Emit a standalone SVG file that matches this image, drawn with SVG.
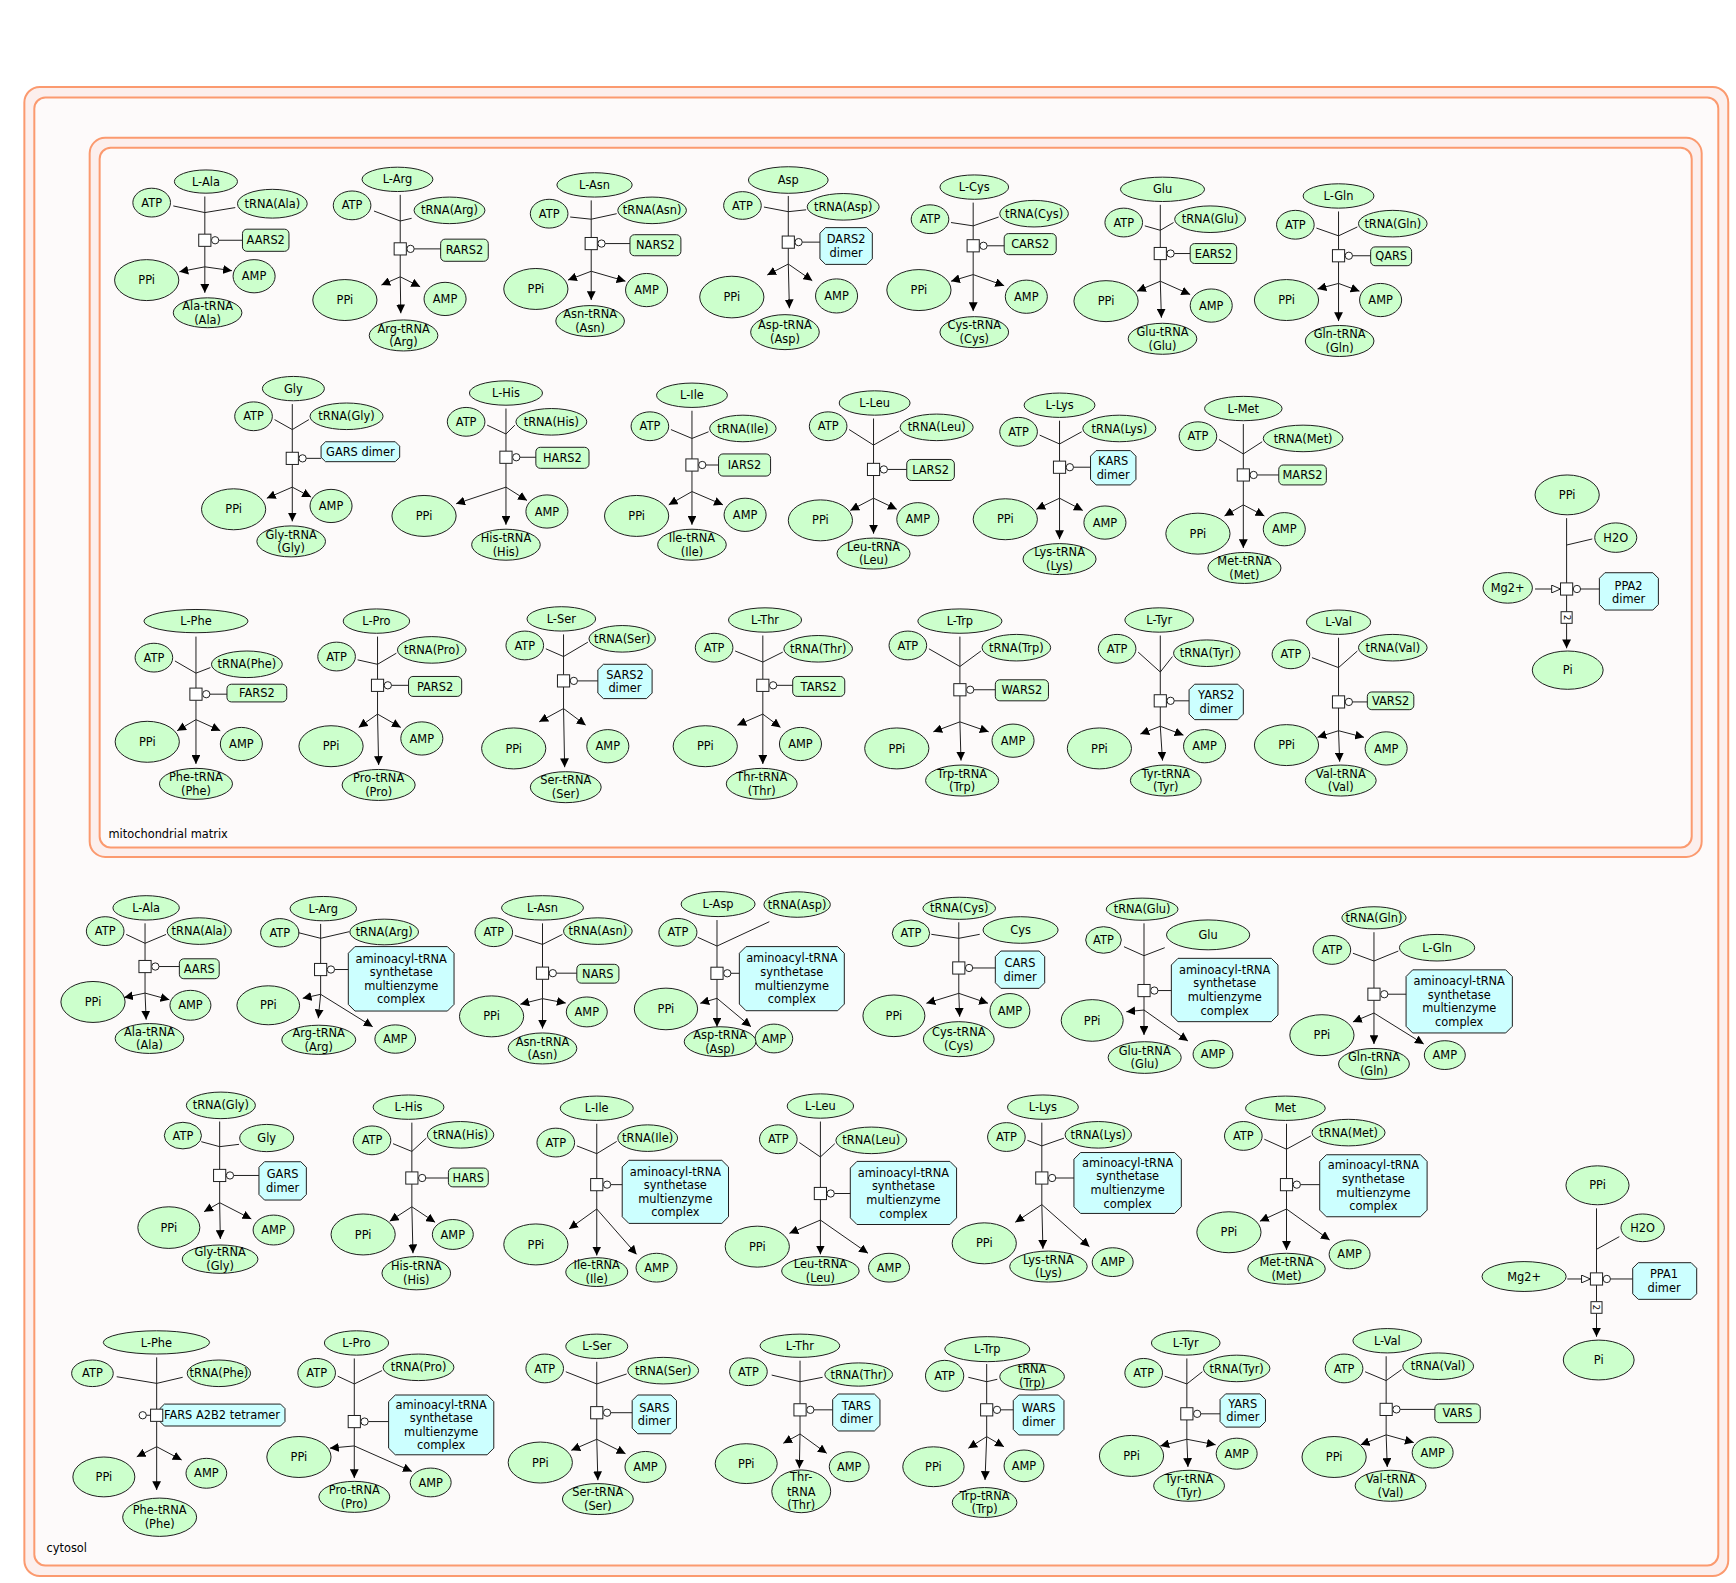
<svg xmlns="http://www.w3.org/2000/svg" width="1736" height="1583" viewBox="0 0 1736 1583">
<defs>
<style>
.cb{fill:#fcefed;stroke:#fb9a6f;stroke-width:1.8}
.ci{fill:#fdfafa;stroke:#fb9a6f;stroke-width:1.8}
text{font-family:"DejaVu Sans","Liberation Sans",sans-serif;font-size:10.3px;fill:#000}
.n ellipse,.n rect{fill:#ccffcc;stroke:#1e1e1e;stroke-width:.9}
.n polygon{fill:#ccffff;stroke:#1e1e1e;stroke-width:.9}
.n text{text-anchor:middle}
#connectors path{fill:none;stroke:#1e1e1e;stroke-width:.9}
#connectors .o{marker-end:url(#ah)}
#connectors .g{marker-end:url(#ot)}
#connectors rect,#connectors circle{fill:#fff;stroke:#1e1e1e;stroke-width:.9}
#connectors text{font-size:8px;text-anchor:middle}
</style>
<marker id="ah" viewBox="0 0 8 8" refX="8" refY="4" markerWidth="8" markerHeight="8" markerUnits="userSpaceOnUse" orient="auto"><path d="M0,0 L8,4 L0,8 z" fill="#000"/></marker>
<marker id="ot" viewBox="0 0 9 8" refX="8.5" refY="4" markerWidth="9" markerHeight="8" markerUnits="userSpaceOnUse" orient="auto"><path d="M0.5,0.5 L8.5,4 L0.5,7.5 z" fill="#fff" stroke="#000" stroke-width="0.8"/></marker>
</defs>
<rect width="1736" height="1583" fill="#fff"/>
<g transform="scale(1.107143)">
<g id="compartments">
<rect class="cb" x="22" y="78.5" width="1539" height="1345" rx="14"/>
<rect class="ci" x="31" y="88" width="1521" height="1326" rx="10"/>
<rect class="cb" x="81" y="124.5" width="1456" height="649.5" rx="14"/>
<rect class="ci" x="90" y="133.5" width="1438" height="632" rx="10"/>
<text x="98" y="757">mitochondrial matrix</text>
<text x="42" y="1402">cytosol</text>
</g>
<g id="nodes">
<!-- M1 Ala -->
<g class="n" id="m1-s"><ellipse cx="186" cy="164" rx="28.5" ry="10.5"/><text x="186" y="167.7">L-Ala</text></g>
<g class="n" id="m1-atp"><ellipse cx="137" cy="183" rx="17" ry="13"/><text x="137" y="186.7">ATP</text></g>
<g class="n" id="m1-t"><ellipse cx="246" cy="184" rx="31.5" ry="13"/><text x="246" y="187.7">tRNA(Ala)</text></g>
<g class="n" id="m1-e"><rect x="219" y="207" width="42" height="20" rx="4"/><text x="240" y="220.7">AARS2</text></g>
<g class="n" id="m1-ppi"><ellipse cx="132.5" cy="253" rx="29" ry="18.5"/><text x="132.5" y="256.7">PPi</text></g>
<g class="n" id="m1-amp"><ellipse cx="229.5" cy="249.5" rx="19" ry="15"/><text x="229.5" y="253.2">AMP</text></g>
<g class="n" id="m1-p"><ellipse cx="187.5" cy="282.5" rx="31" ry="13.5"/><text x="187.5" y="279.9">Ala-tRNA</text><text x="187.5" y="292.3">(Ala)</text></g>
<!-- M2 Arg -->
<g class="n" id="m2-s"><ellipse cx="359" cy="162" rx="32" ry="11"/><text x="359" y="165.7">L-Arg</text></g>
<g class="n" id="m2-atp"><ellipse cx="318" cy="185.5" rx="17" ry="13"/><text x="318" y="189.2">ATP</text></g>
<g class="n" id="m2-t"><ellipse cx="406" cy="190" rx="32" ry="12"/><text x="406" y="193.7">tRNA(Arg)</text></g>
<g class="n" id="m2-e"><rect x="398" y="216" width="43" height="20" rx="4"/><text x="419.5" y="229.7">RARS2</text></g>
<g class="n" id="m2-ppi"><ellipse cx="311.5" cy="271" rx="29" ry="18.5"/><text x="311.5" y="274.7">PPi</text></g>
<g class="n" id="m2-amp"><ellipse cx="402" cy="270" rx="19" ry="15"/><text x="402" y="273.7">AMP</text></g>
<g class="n" id="m2-p"><ellipse cx="364.5" cy="303" rx="31" ry="14"/><text x="364.5" y="300.4">Arg-tRNA</text><text x="364.5" y="312.8">(Arg)</text></g>
<!-- M3 Asn -->
<g class="n" id="m3-s"><ellipse cx="537" cy="167" rx="34" ry="11"/><text x="537" y="170.7">L-Asn</text></g>
<g class="n" id="m3-atp"><ellipse cx="496" cy="193" rx="17" ry="13"/><text x="496" y="196.7">ATP</text></g>
<g class="n" id="m3-t"><ellipse cx="589" cy="190" rx="31" ry="12"/><text x="589" y="193.7">tRNA(Asn)</text></g>
<g class="n" id="m3-e"><rect x="569" y="212" width="46" height="19" rx="4"/><text x="592" y="225.2">NARS2</text></g>
<g class="n" id="m3-ppi"><ellipse cx="484" cy="261" rx="29" ry="18.5"/><text x="484" y="264.7">PPi</text></g>
<g class="n" id="m3-amp"><ellipse cx="584" cy="262" rx="19" ry="15"/><text x="584" y="265.7">AMP</text></g>
<g class="n" id="m3-p"><ellipse cx="533" cy="290" rx="31" ry="14"/><text x="533" y="287.4">Asn-tRNA</text><text x="533" y="299.8">(Asn)</text></g>
<!-- M4 Asp -->
<g class="n" id="m4-s"><ellipse cx="712" cy="162.6" rx="36" ry="12"/><text x="712" y="166.3">Asp</text></g>
<g class="n" id="m4-atp"><ellipse cx="670.6" cy="185.6" rx="17" ry="12.5"/><text x="670.6" y="189.3">ATP</text></g>
<g class="n" id="m4-t"><ellipse cx="761.6" cy="186.8" rx="32.5" ry="12"/><text x="761.6" y="190.5">tRNA(Asp)</text></g>
<g class="n" id="m4-e"><polygon points="745.6,205.6 782.9,205.6 787.9,210.6 787.9,233.8 782.9,238.8 745.6,238.8 740.6,233.8 740.6,210.6"/><text x="764.3" y="219.8">DARS2</text><text x="764.3" y="232">dimer</text></g>
<g class="n" id="m4-ppi"><ellipse cx="661" cy="268.3" rx="29" ry="18.8"/><text x="661" y="272">PPi</text></g>
<g class="n" id="m4-amp"><ellipse cx="755.6" cy="267.3" rx="19" ry="15.4"/><text x="755.6" y="271">AMP</text></g>
<g class="n" id="m4-p"><ellipse cx="709" cy="300" rx="31" ry="15.8"/><text x="709" y="297.4">Asp-tRNA</text><text x="709" y="309.8">(Asp)</text></g>
<!-- M5 Cys -->
<g class="n" id="m5-s"><ellipse cx="880" cy="169" rx="31" ry="11"/><text x="880" y="172.7">L-Cys</text></g>
<g class="n" id="m5-atp"><ellipse cx="840" cy="198" rx="17" ry="13"/><text x="840" y="201.7">ATP</text></g>
<g class="n" id="m5-t"><ellipse cx="934" cy="193" rx="31" ry="12"/><text x="934" y="196.7">tRNA(Cys)</text></g>
<g class="n" id="m5-e"><rect x="907" y="211" width="47" height="19" rx="4"/><text x="930.5" y="224.2">CARS2</text></g>
<g class="n" id="m5-ppi"><ellipse cx="830" cy="262" rx="29" ry="18.5"/><text x="830" y="265.7">PPi</text></g>
<g class="n" id="m5-amp"><ellipse cx="927" cy="268" rx="19" ry="15"/><text x="927" y="271.7">AMP</text></g>
<g class="n" id="m5-p"><ellipse cx="880" cy="300" rx="31" ry="14"/><text x="880" y="297.4">Cys-tRNA</text><text x="880" y="309.8">(Cys)</text></g>
<!-- M6 Glu -->
<g class="n" id="m6-s"><ellipse cx="1050" cy="171" rx="38" ry="11"/><text x="1050" y="174.7">Glu</text></g>
<g class="n" id="m6-atp"><ellipse cx="1015" cy="201" rx="17" ry="13"/><text x="1015" y="204.7">ATP</text></g>
<g class="n" id="m6-t"><ellipse cx="1093" cy="198" rx="32" ry="12"/><text x="1093" y="201.7">tRNA(Glu)</text></g>
<g class="n" id="m6-e"><rect x="1075" y="220" width="42" height="18" rx="4"/><text x="1096" y="232.7">EARS2</text></g>
<g class="n" id="m6-ppi"><ellipse cx="999" cy="272" rx="29" ry="18.5"/><text x="999" y="275.7">PPi</text></g>
<g class="n" id="m6-amp"><ellipse cx="1094" cy="276" rx="19" ry="15"/><text x="1094" y="279.7">AMP</text></g>
<g class="n" id="m6-p"><ellipse cx="1050" cy="306" rx="31" ry="14"/><text x="1050" y="303.4">Glu-tRNA</text><text x="1050" y="315.8">(Glu)</text></g>
<!-- M7 Gln -->
<g class="n" id="m7-s"><ellipse cx="1209" cy="177" rx="32" ry="11"/><text x="1209" y="180.7">L-Gln</text></g>
<g class="n" id="m7-atp"><ellipse cx="1170" cy="203" rx="17" ry="13"/><text x="1170" y="206.7">ATP</text></g>
<g class="n" id="m7-t"><ellipse cx="1258" cy="202" rx="31" ry="12"/><text x="1258" y="205.7">tRNA(Gln)</text></g>
<g class="n" id="m7-e"><rect x="1238" y="223" width="37" height="17" rx="4"/><text x="1256.5" y="235.2">QARS</text></g>
<g class="n" id="m7-ppi"><ellipse cx="1162" cy="271" rx="29" ry="18.5"/><text x="1162" y="274.7">PPi</text></g>
<g class="n" id="m7-amp"><ellipse cx="1247" cy="271" rx="19" ry="15"/><text x="1247" y="274.7">AMP</text></g>
<g class="n" id="m7-p"><ellipse cx="1210" cy="308" rx="31" ry="14"/><text x="1210" y="305.4">Gln-tRNA</text><text x="1210" y="317.8">(Gln)</text></g>
<!-- M8 Gly -->
<g class="n" id="m8-s"><ellipse cx="265" cy="351" rx="28" ry="11"/><text x="265" y="354.7">Gly</text></g>
<g class="n" id="m8-atp"><ellipse cx="229" cy="376" rx="17" ry="13"/><text x="229" y="379.7">ATP</text></g>
<g class="n" id="m8-t"><ellipse cx="313" cy="376" rx="33" ry="12"/><text x="313" y="379.7">tRNA(Gly)</text></g>
<g class="n" id="m8-e"><polygon points="294,399 357,399 361,403 361,413 357,417 294,417 290,413 290,403"/><text x="325.5" y="411.7">GARS dimer</text></g>
<g class="n" id="m8-ppi"><ellipse cx="211" cy="460" rx="29" ry="18.5"/><text x="211" y="463.7">PPi</text></g>
<g class="n" id="m8-amp"><ellipse cx="299" cy="457" rx="19" ry="15"/><text x="299" y="460.7">AMP</text></g>
<g class="n" id="m8-p"><ellipse cx="263" cy="489" rx="31" ry="14"/><text x="263" y="486.4">Gly-tRNA</text><text x="263" y="498.8">(Gly)</text></g>
<!-- M9 His -->
<g class="n" id="m9-s"><ellipse cx="457" cy="355" rx="33" ry="11"/><text x="457" y="358.7">L-His</text></g>
<g class="n" id="m9-atp"><ellipse cx="421" cy="381" rx="17" ry="13"/><text x="421" y="384.7">ATP</text></g>
<g class="n" id="m9-t"><ellipse cx="498" cy="381" rx="32" ry="12"/><text x="498" y="384.7">tRNA(His)</text></g>
<g class="n" id="m9-e"><rect x="484" y="404" width="48" height="19" rx="4"/><text x="508" y="417.2">HARS2</text></g>
<g class="n" id="m9-ppi"><ellipse cx="383" cy="466" rx="29" ry="18.5"/><text x="383" y="469.7">PPi</text></g>
<g class="n" id="m9-amp"><ellipse cx="494" cy="462" rx="19" ry="15"/><text x="494" y="465.7">AMP</text></g>
<g class="n" id="m9-p"><ellipse cx="457" cy="492" rx="31" ry="14"/><text x="457" y="489.4">His-tRNA</text><text x="457" y="501.8">(His)</text></g>
<!-- M10 Ile -->
<g class="n" id="m10-s"><ellipse cx="625" cy="357" rx="32" ry="11"/><text x="625" y="360.7">L-Ile</text></g>
<g class="n" id="m10-atp"><ellipse cx="587" cy="385" rx="17" ry="13"/><text x="587" y="388.7">ATP</text></g>
<g class="n" id="m10-t"><ellipse cx="671" cy="387" rx="30" ry="12"/><text x="671" y="390.7">tRNA(Ile)</text></g>
<g class="n" id="m10-e"><rect x="649" y="410" width="47" height="20" rx="4"/><text x="672.5" y="423.7">IARS2</text></g>
<g class="n" id="m10-ppi"><ellipse cx="575" cy="466" rx="29" ry="18.5"/><text x="575" y="469.7">PPi</text></g>
<g class="n" id="m10-amp"><ellipse cx="673" cy="465" rx="19" ry="15"/><text x="673" y="468.7">AMP</text></g>
<g class="n" id="m10-p"><ellipse cx="625" cy="492" rx="31" ry="14"/><text x="625" y="489.4">Ile-tRNA</text><text x="625" y="501.8">(Ile)</text></g>
<!-- M11 Leu -->
<g class="n" id="m11-s"><ellipse cx="790" cy="364" rx="32" ry="11"/><text x="790" y="367.7">L-Leu</text></g>
<g class="n" id="m11-atp"><ellipse cx="748" cy="385" rx="17" ry="13"/><text x="748" y="388.7">ATP</text></g>
<g class="n" id="m11-t"><ellipse cx="846" cy="386" rx="33" ry="12"/><text x="846" y="389.7">tRNA(Leu)</text></g>
<g class="n" id="m11-e"><rect x="819" y="415" width="43" height="19" rx="4"/><text x="840.5" y="428.2">LARS2</text></g>
<g class="n" id="m11-ppi"><ellipse cx="741" cy="470" rx="29" ry="18.5"/><text x="741" y="473.7">PPi</text></g>
<g class="n" id="m11-amp"><ellipse cx="829" cy="469" rx="19" ry="15"/><text x="829" y="472.7">AMP</text></g>
<g class="n" id="m11-p"><ellipse cx="789" cy="500" rx="33" ry="14"/><text x="789" y="497.4">Leu-tRNA</text><text x="789" y="509.8">(Leu)</text></g>
<!-- M12 Lys -->
<g class="n" id="m12-s"><ellipse cx="957" cy="366" rx="32" ry="11"/><text x="957" y="369.7">L-Lys</text></g>
<g class="n" id="m12-atp"><ellipse cx="920" cy="390" rx="17" ry="13"/><text x="920" y="393.7">ATP</text></g>
<g class="n" id="m12-t"><ellipse cx="1011" cy="387" rx="33" ry="12"/><text x="1011" y="390.7">tRNA(Lys)</text></g>
<g class="n" id="m12-e"><polygon points="990,407 1021,407 1026,412 1026,433 1021,438 990,438 985,433 985,412"/><text x="1005.5" y="420.1">KARS</text><text x="1005.5" y="432.3">dimer</text></g>
<g class="n" id="m12-ppi"><ellipse cx="908" cy="469" rx="29" ry="18.5"/><text x="908" y="472.7">PPi</text></g>
<g class="n" id="m12-amp"><ellipse cx="998" cy="472" rx="19" ry="15"/><text x="998" y="475.7">AMP</text></g>
<g class="n" id="m12-p"><ellipse cx="957" cy="505" rx="33" ry="14"/><text x="957" y="502.4">Lys-tRNA</text><text x="957" y="514.8">(Lys)</text></g>
<!-- M13 Met -->
<g class="n" id="m13-s"><ellipse cx="1123" cy="369" rx="35" ry="11"/><text x="1123" y="372.7">L-Met</text></g>
<g class="n" id="m13-atp"><ellipse cx="1082" cy="394" rx="17" ry="13"/><text x="1082" y="397.7">ATP</text></g>
<g class="n" id="m13-t"><ellipse cx="1177" cy="396" rx="36" ry="12"/><text x="1177" y="399.7">tRNA(Met)</text></g>
<g class="n" id="m13-e"><rect x="1155" y="420" width="43" height="18" rx="4"/><text x="1176.5" y="432.7">MARS2</text></g>
<g class="n" id="m13-ppi"><ellipse cx="1082" cy="482" rx="29" ry="18.5"/><text x="1082" y="485.7">PPi</text></g>
<g class="n" id="m13-amp"><ellipse cx="1160" cy="478" rx="19" ry="15"/><text x="1160" y="481.7">AMP</text></g>
<g class="n" id="m13-p"><ellipse cx="1124" cy="513" rx="33" ry="14"/><text x="1124" y="510.4">Met-tRNA</text><text x="1124" y="522.8">(Met)</text></g>
<!-- M14 PPA2 -->
<g class="n" id="m14-ppi"><ellipse cx="1415.5" cy="447" rx="29" ry="18"/><text x="1415.5" y="450.7">PPi</text></g>
<g class="n" id="m14-h2o"><ellipse cx="1459.4" cy="485.6" rx="19" ry="13.3"/><text x="1459.4" y="489.3">H2O</text></g>
<g class="n" id="m14-mg"><ellipse cx="1361.8" cy="531" rx="22.3" ry="13.8"/><text x="1361.8" y="534.7">Mg2+</text></g>
<g class="n" id="m14-e"><polygon points="1449.6,517.3 1492.9,517.3 1497.9,522.3 1497.9,546 1492.9,551 1449.6,551 1444.6,546 1444.6,522.3"/><text x="1471" y="533">PPA2</text><text x="1471" y="545">dimer</text></g>
<g class="n" id="m14-pi"><ellipse cx="1416" cy="605.3" rx="32" ry="17.3"/><text x="1416" y="609">Pi</text></g>
<!-- M15 Phe -->
<g class="n" id="m15-s"><ellipse cx="177" cy="561" rx="47" ry="10.5"/><text x="177" y="564.7">L-Phe</text></g>
<g class="n" id="m15-atp"><ellipse cx="139" cy="594" rx="17" ry="13"/><text x="139" y="597.7">ATP</text></g>
<g class="n" id="m15-t"><ellipse cx="223" cy="600" rx="32" ry="12"/><text x="223" y="603.7">tRNA(Phe)</text></g>
<g class="n" id="m15-e"><rect x="205" y="618" width="54" height="16" rx="4"/><text x="232" y="629.7">FARS2</text></g>
<g class="n" id="m15-ppi"><ellipse cx="133" cy="670" rx="29" ry="18.5"/><text x="133" y="673.7">PPi</text></g>
<g class="n" id="m15-amp"><ellipse cx="218" cy="672" rx="19" ry="15"/><text x="218" y="675.7">AMP</text></g>
<g class="n" id="m15-p"><ellipse cx="177" cy="708" rx="33" ry="14"/><text x="177" y="705.4">Phe-tRNA</text><text x="177" y="717.8">(Phe)</text></g>
<!-- M16 Pro -->
<g class="n" id="m16-s"><ellipse cx="340" cy="561" rx="30" ry="11"/><text x="340" y="564.7">L-Pro</text></g>
<g class="n" id="m16-atp"><ellipse cx="304" cy="593" rx="17" ry="13"/><text x="304" y="596.7">ATP</text></g>
<g class="n" id="m16-t"><ellipse cx="390" cy="587" rx="31" ry="12"/><text x="390" y="590.7">tRNA(Pro)</text></g>
<g class="n" id="m16-e"><rect x="369" y="611" width="48" height="18" rx="4"/><text x="393" y="623.7">PARS2</text></g>
<g class="n" id="m16-ppi"><ellipse cx="299" cy="674" rx="29" ry="18.5"/><text x="299" y="677.7">PPi</text></g>
<g class="n" id="m16-amp"><ellipse cx="381" cy="667" rx="19" ry="15"/><text x="381" y="670.7">AMP</text></g>
<g class="n" id="m16-p"><ellipse cx="342" cy="709" rx="33" ry="14"/><text x="342" y="706.4">Pro-tRNA</text><text x="342" y="718.8">(Pro)</text></g>
<!-- M17 Ser -->
<g class="n" id="m17-s"><ellipse cx="507" cy="559" rx="31" ry="11"/><text x="507" y="562.7">L-Ser</text></g>
<g class="n" id="m17-atp"><ellipse cx="474" cy="583" rx="17" ry="13"/><text x="474" y="586.7">ATP</text></g>
<g class="n" id="m17-t"><ellipse cx="562" cy="577" rx="30" ry="12"/><text x="562" y="580.7">tRNA(Ser)</text></g>
<g class="n" id="m17-e"><polygon points="545,600 584,600 589,605 589,626 584,631 545,631 540,626 540,605"/><text x="564.5" y="613.1">SARS2</text><text x="564.5" y="625.3">dimer</text></g>
<g class="n" id="m17-ppi"><ellipse cx="464" cy="676" rx="29" ry="18.5"/><text x="464" y="679.7">PPi</text></g>
<g class="n" id="m17-amp"><ellipse cx="549" cy="674" rx="19" ry="15"/><text x="549" y="677.7">AMP</text></g>
<g class="n" id="m17-p"><ellipse cx="511" cy="711" rx="32" ry="14"/><text x="511" y="708.4">Ser-tRNA</text><text x="511" y="720.8">(Ser)</text></g>
<!-- M18 Thr -->
<g class="n" id="m18-s"><ellipse cx="691" cy="560" rx="33" ry="11"/><text x="691" y="563.7">L-Thr</text></g>
<g class="n" id="m18-atp"><ellipse cx="645" cy="585" rx="17" ry="13"/><text x="645" y="588.7">ATP</text></g>
<g class="n" id="m18-t"><ellipse cx="739" cy="586" rx="31" ry="12"/><text x="739" y="589.7">tRNA(Thr)</text></g>
<g class="n" id="m18-e"><rect x="716" y="611" width="47" height="18" rx="4"/><text x="739.5" y="623.7">TARS2</text></g>
<g class="n" id="m18-ppi"><ellipse cx="637" cy="674" rx="29" ry="18.5"/><text x="637" y="677.7">PPi</text></g>
<g class="n" id="m18-amp"><ellipse cx="723" cy="672" rx="19" ry="15"/><text x="723" y="675.7">AMP</text></g>
<g class="n" id="m18-p"><ellipse cx="688" cy="708" rx="32" ry="14"/><text x="688" y="705.4">Thr-tRNA</text><text x="688" y="717.8">(Thr)</text></g>
<!-- M19 Trp -->
<g class="n" id="m19-s"><ellipse cx="867" cy="561" rx="38" ry="11"/><text x="867" y="564.7">L-Trp</text></g>
<g class="n" id="m19-atp"><ellipse cx="820" cy="583" rx="17" ry="13"/><text x="820" y="586.7">ATP</text></g>
<g class="n" id="m19-t"><ellipse cx="918" cy="585" rx="31" ry="12"/><text x="918" y="588.7">tRNA(Trp)</text></g>
<g class="n" id="m19-e"><rect x="899" y="614" width="48" height="19" rx="4"/><text x="923" y="627.2">WARS2</text></g>
<g class="n" id="m19-ppi"><ellipse cx="810" cy="676" rx="29" ry="18.5"/><text x="810" y="679.7">PPi</text></g>
<g class="n" id="m19-amp"><ellipse cx="915" cy="669" rx="19" ry="15"/><text x="915" y="672.7">AMP</text></g>
<g class="n" id="m19-p"><ellipse cx="869" cy="705" rx="33" ry="14"/><text x="869" y="702.4">Trp-tRNA</text><text x="869" y="714.8">(Trp)</text></g>
<!-- M20 Tyr -->
<g class="n" id="m20-s"><ellipse cx="1047" cy="560" rx="31" ry="11"/><text x="1047" y="563.7">L-Tyr</text></g>
<g class="n" id="m20-atp"><ellipse cx="1009" cy="586" rx="17" ry="13"/><text x="1009" y="589.7">ATP</text></g>
<g class="n" id="m20-t"><ellipse cx="1090" cy="590" rx="30" ry="12"/><text x="1090" y="593.7">tRNA(Tyr)</text></g>
<g class="n" id="m20-e"><polygon points="1079,618 1118,618 1123,623 1123,645 1118,650 1079,650 1074,645 1074,623"/><text x="1098.5" y="631.6">YARS2</text><text x="1098.5" y="643.8">dimer</text></g>
<g class="n" id="m20-ppi"><ellipse cx="993" cy="676" rx="29" ry="18.5"/><text x="993" y="679.7">PPi</text></g>
<g class="n" id="m20-amp"><ellipse cx="1088" cy="674" rx="19" ry="15"/><text x="1088" y="677.7">AMP</text></g>
<g class="n" id="m20-p"><ellipse cx="1053" cy="705" rx="32" ry="14"/><text x="1053" y="702.4">Tyr-tRNA</text><text x="1053" y="714.8">(Tyr)</text></g>
<!-- M21 Val -->
<g class="n" id="m21-s"><ellipse cx="1209" cy="562" rx="29" ry="11"/><text x="1209" y="565.7">L-Val</text></g>
<g class="n" id="m21-atp"><ellipse cx="1166" cy="591" rx="17" ry="13"/><text x="1166" y="594.7">ATP</text></g>
<g class="n" id="m21-t"><ellipse cx="1258" cy="585" rx="31" ry="12"/><text x="1258" y="588.7">tRNA(Val)</text></g>
<g class="n" id="m21-e"><rect x="1235" y="625" width="42" height="16" rx="4"/><text x="1256" y="636.7">VARS2</text></g>
<g class="n" id="m21-ppi"><ellipse cx="1162" cy="673" rx="29" ry="18.5"/><text x="1162" y="676.7">PPi</text></g>
<g class="n" id="m21-amp"><ellipse cx="1252" cy="676" rx="19" ry="15"/><text x="1252" y="679.7">AMP</text></g>
<g class="n" id="m21-p"><ellipse cx="1211" cy="705" rx="32" ry="14"/><text x="1211" y="702.4">Val-tRNA</text><text x="1211" y="714.8">(Val)</text></g>
<!-- C1 Ala -->
<g class="n" id="c1-s"><ellipse cx="132" cy="820" rx="30" ry="11"/><text x="132" y="823.7">L-Ala</text></g>
<g class="n" id="c1-atp"><ellipse cx="95" cy="841" rx="17" ry="13"/><text x="95" y="844.7">ATP</text></g>
<g class="n" id="c1-t"><ellipse cx="180" cy="841" rx="29" ry="12"/><text x="180" y="844.7">tRNA(Ala)</text></g>
<g class="n" id="c1-e"><rect x="162" y="866" width="36" height="18" rx="4"/><text x="180" y="878.7">AARS</text></g>
<g class="n" id="c1-ppi"><ellipse cx="84" cy="905" rx="29" ry="18.5"/><text x="84" y="908.7">PPi</text></g>
<g class="n" id="c1-amp"><ellipse cx="172" cy="908" rx="18.5" ry="13.5"/><text x="172" y="911.7">AMP</text></g>
<g class="n" id="c1-p"><ellipse cx="135" cy="938" rx="31" ry="13.5"/><text x="135" y="935.4">Ala-tRNA</text><text x="135" y="947.8">(Ala)</text></g>
<!-- C2 Arg -->
<g class="n" id="c2-s"><ellipse cx="292" cy="820.7" rx="30" ry="11"/><text x="292" y="824.4">L-Arg</text></g>
<g class="n" id="c2-atp"><ellipse cx="252.7" cy="842.5" rx="17.3" ry="12.8"/><text x="252.7" y="846.2">ATP</text></g>
<g class="n" id="c2-t"><ellipse cx="347" cy="841.8" rx="31" ry="11.6"/><text x="347" y="845.5">tRNA(Arg)</text></g>
<g class="n" id="c2-e"><polygon points="320.6,855 404.1,855 410.1,861 410.1,907.2 404.1,913.2 320.6,913.2 314.6,907.2 314.6,861"/><text x="362.4" y="869.4">aminoacyl-tRNA</text><text x="362.4" y="881.7">synthetase</text><text x="362.4" y="894">multienzyme</text><text x="362.4" y="906.3">complex</text></g>
<g class="n" id="c2-ppi"><ellipse cx="242.3" cy="908" rx="28.3" ry="17.6"/><text x="242.3" y="911.7">PPi</text></g>
<g class="n" id="c2-amp"><ellipse cx="357" cy="938.5" rx="18.4" ry="12.8"/><text x="357" y="942.2">AMP</text></g>
<g class="n" id="c2-p"><ellipse cx="287.9" cy="939.2" rx="33.4" ry="13.2"/><text x="287.9" y="936.6">Arg-tRNA</text><text x="287.9" y="949">(Arg)</text></g>
<!-- C3 Asn -->
<g class="n" id="c3-s"><ellipse cx="490" cy="820" rx="37" ry="11"/><text x="490" y="823.7">L-Asn</text></g>
<g class="n" id="c3-atp"><ellipse cx="446" cy="842" rx="17" ry="13"/><text x="446" y="845.7">ATP</text></g>
<g class="n" id="c3-t"><ellipse cx="540" cy="841" rx="31" ry="12"/><text x="540" y="844.7">tRNA(Asn)</text></g>
<g class="n" id="c3-e"><rect x="521" y="871" width="38" height="17" rx="4"/><text x="540" y="883.2">NARS</text></g>
<g class="n" id="c3-ppi"><ellipse cx="444" cy="918" rx="29" ry="18.5"/><text x="444" y="921.7">PPi</text></g>
<g class="n" id="c3-amp"><ellipse cx="530" cy="914" rx="18.5" ry="13.5"/><text x="530" y="917.7">AMP</text></g>
<g class="n" id="c3-p"><ellipse cx="490" cy="947" rx="31" ry="14"/><text x="490" y="944.4">Asn-tRNA</text><text x="490" y="956.8">(Asn)</text></g>
<!-- C4 Asp -->
<g class="n" id="c4-s"><ellipse cx="648.6" cy="816.6" rx="33.4" ry="11.3"/><text x="648.6" y="820.3">L-Asp</text></g>
<g class="n" id="c4-atp"><ellipse cx="612.3" cy="842.1" rx="17.2" ry="12.5"/><text x="612.3" y="845.8">ATP</text></g>
<g class="n" id="c4-t"><ellipse cx="720" cy="817" rx="30" ry="11.5"/><text x="720" y="820.7">tRNA(Asp)</text></g>
<g class="n" id="c4-e"><polygon points="673.8,855 756.6,855 762.6,861 762.6,906.9 756.6,912.9 673.8,912.9 667.8,906.9 667.8,861"/><text x="715.2" y="869.3">aminoacyl-tRNA</text><text x="715.2" y="881.6">synthetase</text><text x="715.2" y="893.9">multienzyme</text><text x="715.2" y="906.2">complex</text></g>
<g class="n" id="c4-ppi"><ellipse cx="601.5" cy="911.3" rx="28.6" ry="18.8"/><text x="601.5" y="915">PPi</text></g>
<g class="n" id="c4-amp"><ellipse cx="699" cy="938" rx="17" ry="13"/><text x="699" y="941.7">AMP</text></g>
<g class="n" id="c4-p"><ellipse cx="650.4" cy="940.9" rx="32.4" ry="13.5"/><text x="650.4" y="938.3">Asp-tRNA</text><text x="650.4" y="950.7">(Asp)</text></g>
<!-- C5 Cys -->
<g class="n" id="c5-s"><ellipse cx="866.4" cy="820.4" rx="32.8" ry="10"/><text x="866.4" y="824.1">tRNA(Cys)</text></g>
<g class="n" id="c5-atp"><ellipse cx="822.8" cy="843" rx="16.9" ry="12"/><text x="822.8" y="846.7">ATP</text></g>
<g class="n" id="c5-t"><ellipse cx="921.8" cy="840" rx="33.9" ry="12"/><text x="921.8" y="843.7">Cys</text></g>
<g class="n" id="c5-e"><polygon points="904,859 938.6,859 943.6,864 943.6,887.7 938.6,892.7 904,892.7 899,887.7 899,864"/><text x="921.3" y="873.5">CARS</text><text x="921.3" y="885.7">dimer</text></g>
<g class="n" id="c5-ppi"><ellipse cx="807.4" cy="917.5" rx="28" ry="18.8"/><text x="807.4" y="921.2">PPi</text></g>
<g class="n" id="c5-amp"><ellipse cx="912.2" cy="912.9" rx="18" ry="15.5"/><text x="912.2" y="916.6">AMP</text></g>
<g class="n" id="c5-p"><ellipse cx="866" cy="938.6" rx="32" ry="15.8"/><text x="866" y="936">Cys-tRNA</text><text x="866" y="948.4">(Cys)</text></g>
<!-- C6 Glu -->
<g class="n" id="c6-s"><ellipse cx="1031.6" cy="821.2" rx="32.4" ry="10"/><text x="1031.6" y="824.9">tRNA(Glu)</text></g>
<g class="n" id="c6-atp"><ellipse cx="996.7" cy="849" rx="16.1" ry="12"/><text x="996.7" y="852.7">ATP</text></g>
<g class="n" id="c6-t"><ellipse cx="1091.2" cy="844.4" rx="37.6" ry="13.5"/><text x="1091.2" y="848.1">Glu</text></g>
<g class="n" id="c6-e"><polygon points="1064,865.6 1148.3,865.6 1154.3,871.6 1154.3,916.8 1148.3,922.8 1064,922.8 1058,916.8 1058,871.6"/><text x="1106.2" y="879.5">aminoacyl-tRNA</text><text x="1106.2" y="891.8">synthetase</text><text x="1106.2" y="904.1">multienzyme</text><text x="1106.2" y="916.4">complex</text></g>
<g class="n" id="c6-ppi"><ellipse cx="986.5" cy="921.7" rx="28" ry="18.8"/><text x="986.5" y="925.4">PPi</text></g>
<g class="n" id="c6-amp"><ellipse cx="1095.6" cy="952.2" rx="18" ry="12.5"/><text x="1095.6" y="955.9">AMP</text></g>
<g class="n" id="c6-p"><ellipse cx="1033.9" cy="955.2" rx="33" ry="14.3"/><text x="1033.9" y="952.6">Glu-tRNA</text><text x="1033.9" y="965">(Glu)</text></g>
<!-- C7 Gln -->
<g class="n" id="c7-s"><ellipse cx="1241" cy="829" rx="29" ry="10"/><text x="1241" y="832.7">tRNA(Gln)</text></g>
<g class="n" id="c7-atp"><ellipse cx="1203" cy="858" rx="17" ry="13"/><text x="1203" y="861.7">ATP</text></g>
<g class="n" id="c7-t"><ellipse cx="1298" cy="856" rx="34" ry="12"/><text x="1298" y="859.7">L-Gln</text></g>
<g class="n" id="c7-e"><polygon points="1276,876 1360,876 1366,882 1366,927 1360,933 1276,933 1270,927 1270,882"/><text x="1318" y="889.8">aminoacyl-tRNA</text><text x="1318" y="902.1">synthetase</text><text x="1318" y="914.4">multienzyme</text><text x="1318" y="926.7">complex</text></g>
<g class="n" id="c7-ppi"><ellipse cx="1194" cy="935" rx="29" ry="18.5"/><text x="1194" y="938.7">PPi</text></g>
<g class="n" id="c7-amp"><ellipse cx="1305" cy="953" rx="18.5" ry="13"/><text x="1305" y="956.7">AMP</text></g>
<g class="n" id="c7-p"><ellipse cx="1241" cy="961" rx="32" ry="14"/><text x="1241" y="958.4">Gln-tRNA</text><text x="1241" y="970.8">(Gln)</text></g>
<!-- C8 Gly -->
<g class="n" id="c8-s"><ellipse cx="199.5" cy="998.4" rx="31.2" ry="12"/><text x="199.5" y="1002.1">tRNA(Gly)</text></g>
<g class="n" id="c8-atp"><ellipse cx="165.2" cy="1025.7" rx="16.8" ry="12"/><text x="165.2" y="1029.4">ATP</text></g>
<g class="n" id="c8-t"><ellipse cx="240.9" cy="1027.9" rx="24.4" ry="12.3"/><text x="240.9" y="1031.6">Gly</text></g>
<g class="n" id="c8-e"><polygon points="238.9,1049.3 271.7,1049.3 276.7,1054.3 276.7,1078.9 271.7,1083.9 238.9,1083.9 233.9,1078.9 233.9,1054.3"/><text x="255.3" y="1064.2">GARS</text><text x="255.3" y="1076.4">dimer</text></g>
<g class="n" id="c8-ppi"><ellipse cx="152.5" cy="1108.8" rx="28" ry="18.8"/><text x="152.5" y="1112.5">PPi</text></g>
<g class="n" id="c8-amp"><ellipse cx="247.1" cy="1111" rx="18.5" ry="13.5"/><text x="247.1" y="1114.7">AMP</text></g>
<g class="n" id="c8-p"><ellipse cx="198.8" cy="1137.3" rx="34.2" ry="12.8"/><text x="198.8" y="1134.7">Gly-tRNA</text><text x="198.8" y="1147.1">(Gly)</text></g>
<!-- C9 His -->
<g class="n" id="c9-s"><ellipse cx="369" cy="1000" rx="32" ry="11"/><text x="369" y="1003.7">L-His</text></g>
<g class="n" id="c9-atp"><ellipse cx="336" cy="1030" rx="17" ry="13"/><text x="336" y="1033.7">ATP</text></g>
<g class="n" id="c9-t"><ellipse cx="416" cy="1025" rx="30" ry="12"/><text x="416" y="1028.7">tRNA(His)</text></g>
<g class="n" id="c9-e"><rect x="405" y="1055" width="36" height="17" rx="4"/><text x="423" y="1067.2">HARS</text></g>
<g class="n" id="c9-ppi"><ellipse cx="328" cy="1115" rx="29" ry="18.5"/><text x="328" y="1118.7">PPi</text></g>
<g class="n" id="c9-amp"><ellipse cx="409" cy="1115" rx="18.5" ry="13.5"/><text x="409" y="1118.7">AMP</text></g>
<g class="n" id="c9-p"><ellipse cx="376" cy="1150" rx="31" ry="15"/><text x="376" y="1147.4">His-tRNA</text><text x="376" y="1159.8">(His)</text></g>
<!-- C10 Ile -->
<g class="n" id="c10-s"><ellipse cx="539" cy="1001" rx="33" ry="11"/><text x="539" y="1004.7">L-Ile</text></g>
<g class="n" id="c10-atp"><ellipse cx="502" cy="1032" rx="17" ry="13"/><text x="502" y="1035.7">ATP</text></g>
<g class="n" id="c10-t"><ellipse cx="585" cy="1028" rx="27" ry="12"/><text x="585" y="1031.7">tRNA(Ile)</text></g>
<g class="n" id="c10-e"><polygon points="568,1048 652,1048 658,1054 658,1099 652,1105 568,1105 562,1099 562,1054"/><text x="610" y="1061.8">aminoacyl-tRNA</text><text x="610" y="1074.1">synthetase</text><text x="610" y="1086.4">multienzyme</text><text x="610" y="1098.7">complex</text></g>
<g class="n" id="c10-ppi"><ellipse cx="484" cy="1124" rx="29" ry="18.5"/><text x="484" y="1127.7">PPi</text></g>
<g class="n" id="c10-amp"><ellipse cx="593" cy="1145" rx="18.5" ry="13"/><text x="593" y="1148.7">AMP</text></g>
<g class="n" id="c10-p"><ellipse cx="539" cy="1149" rx="28" ry="13"/><text x="539" y="1146.4">Ile-tRNA</text><text x="539" y="1158.8">(Ile)</text></g>
<!-- C11 Leu -->
<g class="n" id="c11-s"><ellipse cx="741" cy="999" rx="30" ry="11"/><text x="741" y="1002.7">L-Leu</text></g>
<g class="n" id="c11-atp"><ellipse cx="703" cy="1029" rx="17" ry="13"/><text x="703" y="1032.7">ATP</text></g>
<g class="n" id="c11-t"><ellipse cx="787" cy="1030" rx="32" ry="12"/><text x="787" y="1033.7">tRNA(Leu)</text></g>
<g class="n" id="c11-e"><polygon points="774,1049 858,1049 864,1055 864,1100 858,1106 774,1106 768,1100 768,1055"/><text x="816" y="1062.8">aminoacyl-tRNA</text><text x="816" y="1075.1">synthetase</text><text x="816" y="1087.4">multienzyme</text><text x="816" y="1099.7">complex</text></g>
<g class="n" id="c11-ppi"><ellipse cx="684" cy="1126" rx="29" ry="18.5"/><text x="684" y="1129.7">PPi</text></g>
<g class="n" id="c11-amp"><ellipse cx="803" cy="1145" rx="18.5" ry="13"/><text x="803" y="1148.7">AMP</text></g>
<g class="n" id="c11-p"><ellipse cx="741" cy="1148" rx="35" ry="13"/><text x="741" y="1145.4">Leu-tRNA</text><text x="741" y="1157.8">(Leu)</text></g>
<!-- C12 Lys -->
<g class="n" id="c12-s"><ellipse cx="942" cy="1000" rx="32" ry="11"/><text x="942" y="1003.7">L-Lys</text></g>
<g class="n" id="c12-atp"><ellipse cx="909" cy="1027" rx="17" ry="13"/><text x="909" y="1030.7">ATP</text></g>
<g class="n" id="c12-t"><ellipse cx="992" cy="1025" rx="30" ry="12"/><text x="992" y="1028.7">tRNA(Lys)</text></g>
<g class="n" id="c12-e"><polygon points="976,1041 1061,1041 1067,1047 1067,1090 1061,1096 976,1096 970,1090 970,1047"/><text x="1018.5" y="1053.8">aminoacyl-tRNA</text><text x="1018.5" y="1066.1">synthetase</text><text x="1018.5" y="1078.4">multienzyme</text><text x="1018.5" y="1090.7">complex</text></g>
<g class="n" id="c12-ppi"><ellipse cx="889" cy="1123" rx="29" ry="18.5"/><text x="889" y="1126.7">PPi</text></g>
<g class="n" id="c12-amp"><ellipse cx="1005" cy="1140" rx="18.5" ry="13"/><text x="1005" y="1143.7">AMP</text></g>
<g class="n" id="c12-p"><ellipse cx="947" cy="1144" rx="35" ry="14"/><text x="947" y="1141.4">Lys-tRNA</text><text x="947" y="1153.8">(Lys)</text></g>
<!-- C13 Met -->
<g class="n" id="c13-s"><ellipse cx="1161" cy="1001" rx="36" ry="11"/><text x="1161" y="1004.7">Met</text></g>
<g class="n" id="c13-atp"><ellipse cx="1123" cy="1026" rx="17" ry="13"/><text x="1123" y="1029.7">ATP</text></g>
<g class="n" id="c13-t"><ellipse cx="1218" cy="1023" rx="33" ry="12"/><text x="1218" y="1026.7">tRNA(Met)</text></g>
<g class="n" id="c13-e"><polygon points="1198,1043 1283,1043 1289,1049 1289,1093 1283,1099 1198,1099 1192,1093 1192,1049"/><text x="1240.5" y="1056.3">aminoacyl-tRNA</text><text x="1240.5" y="1068.6">synthetase</text><text x="1240.5" y="1080.9">multienzyme</text><text x="1240.5" y="1093.2">complex</text></g>
<g class="n" id="c13-ppi"><ellipse cx="1110" cy="1113" rx="29" ry="18.5"/><text x="1110" y="1116.7">PPi</text></g>
<g class="n" id="c13-amp"><ellipse cx="1219" cy="1133" rx="18.5" ry="13"/><text x="1219" y="1136.7">AMP</text></g>
<g class="n" id="c13-p"><ellipse cx="1162" cy="1146" rx="35" ry="14"/><text x="1162" y="1143.4">Met-tRNA</text><text x="1162" y="1155.8">(Met)</text></g>
<!-- C14 PPA1 -->
<g class="n" id="c14-ppi"><ellipse cx="1442.9" cy="1070.6" rx="28.5" ry="17.6"/><text x="1442.9" y="1074.3">PPi</text></g>
<g class="n" id="c14-h2o"><ellipse cx="1483.7" cy="1109" rx="19.6" ry="12.5"/><text x="1483.7" y="1112.7">H2O</text></g>
<g class="n" id="c14-mg"><ellipse cx="1376.6" cy="1153" rx="38" ry="13.5"/><text x="1376.6" y="1156.7">Mg2+</text></g>
<g class="n" id="c14-e"><polygon points="1479.7,1140.5 1527.5,1140.5 1532.5,1145.5 1532.5,1168.6 1527.5,1173.6 1479.7,1173.6 1474.7,1168.6 1474.7,1145.5"/><text x="1503" y="1154.6">PPA1</text><text x="1503" y="1166.8">dimer</text></g>
<g class="n" id="c14-pi"><ellipse cx="1444" cy="1228.4" rx="32" ry="18"/><text x="1444" y="1232.1">Pi</text></g>
<!-- C15 Phe -->
<g class="n" id="c15-s"><ellipse cx="141.3" cy="1212.5" rx="48" ry="10.5"/><text x="141.3" y="1216.2">L-Phe</text></g>
<g class="n" id="c15-atp"><ellipse cx="83.5" cy="1240.4" rx="18.8" ry="12"/><text x="83.5" y="1244.1">ATP</text></g>
<g class="n" id="c15-t"><ellipse cx="197.7" cy="1240.4" rx="28.6" ry="12"/><text x="197.7" y="1244.1">tRNA(Phe)</text></g>
<g class="n" id="c15-e"><polygon points="148.5,1268.2 253.4,1268.2 257.4,1272.2 257.4,1284 253.4,1288 148.5,1288 144.5,1284 144.5,1272.2"/><text x="200.5" y="1281.8">FARS A2B2 tetramer</text></g>
<g class="n" id="c15-ppi"><ellipse cx="93.8" cy="1334" rx="28" ry="18"/><text x="93.8" y="1337.7">PPi</text></g>
<g class="n" id="c15-amp"><ellipse cx="186.4" cy="1330.7" rx="18.4" ry="13.5"/><text x="186.4" y="1334.4">AMP</text></g>
<g class="n" id="c15-p"><ellipse cx="144.2" cy="1370.4" rx="33.4" ry="17.3"/><text x="144.2" y="1367.8">Phe-tRNA</text><text x="144.2" y="1380.2">(Phe)</text></g>
<!-- C16 Pro -->
<g class="n" id="c16-s"><ellipse cx="322" cy="1213" rx="29" ry="11"/><text x="322" y="1216.7">L-Pro</text></g>
<g class="n" id="c16-atp"><ellipse cx="286" cy="1240" rx="17" ry="13"/><text x="286" y="1243.7">ATP</text></g>
<g class="n" id="c16-t"><ellipse cx="378" cy="1235" rx="32" ry="12"/><text x="378" y="1238.7">tRNA(Pro)</text></g>
<g class="n" id="c16-e"><polygon points="357,1260 440,1260 446,1266 446,1308 440,1314 357,1314 351,1308 351,1266"/><text x="398.5" y="1272.3">aminoacyl-tRNA</text><text x="398.5" y="1284.6">synthetase</text><text x="398.5" y="1296.9">multienzyme</text><text x="398.5" y="1309.2">complex</text></g>
<g class="n" id="c16-ppi"><ellipse cx="270" cy="1316" rx="29" ry="18.5"/><text x="270" y="1319.7">PPi</text></g>
<g class="n" id="c16-amp"><ellipse cx="389" cy="1339" rx="18.5" ry="13"/><text x="389" y="1342.7">AMP</text></g>
<g class="n" id="c16-p"><ellipse cx="320" cy="1352" rx="32" ry="14"/><text x="320" y="1349.4">Pro-tRNA</text><text x="320" y="1361.8">(Pro)</text></g>
<!-- C17 Ser -->
<g class="n" id="c17-s"><ellipse cx="539" cy="1216" rx="28" ry="11"/><text x="539" y="1219.7">L-Ser</text></g>
<g class="n" id="c17-atp"><ellipse cx="492" cy="1236" rx="17" ry="13"/><text x="492" y="1239.7">ATP</text></g>
<g class="n" id="c17-t"><ellipse cx="599" cy="1238" rx="32" ry="12"/><text x="599" y="1241.7">tRNA(Ser)</text></g>
<g class="n" id="c17-e"><polygon points="576,1260 606,1260 611,1265 611,1290 606,1295 576,1295 571,1290 571,1265"/><text x="591" y="1275.1">SARS</text><text x="591" y="1287.3">dimer</text></g>
<g class="n" id="c17-ppi"><ellipse cx="488" cy="1321" rx="29" ry="18.5"/><text x="488" y="1324.7">PPi</text></g>
<g class="n" id="c17-amp"><ellipse cx="583" cy="1325" rx="18.5" ry="14"/><text x="583" y="1328.7">AMP</text></g>
<g class="n" id="c17-p"><ellipse cx="540" cy="1354" rx="32" ry="14"/><text x="540" y="1351.4">Ser-tRNA</text><text x="540" y="1363.8">(Ser)</text></g>
<!-- C18 Thr -->
<g class="n" id="c18-s"><ellipse cx="722.5" cy="1215.5" rx="36" ry="10.5"/><text x="722.5" y="1219.2">L-Thr</text></g>
<g class="n" id="c18-atp"><ellipse cx="676" cy="1239" rx="17" ry="12.5"/><text x="676" y="1242.7">ATP</text></g>
<g class="n" id="c18-t"><ellipse cx="775.6" cy="1241.5" rx="30.6" ry="10.5"/><text x="775.6" y="1245.2">tRNA(Thr)</text></g>
<g class="n" id="c18-e"><polygon points="757.1,1259.1 789.8,1259.1 794.8,1264.1 794.8,1287.5 789.8,1292.5 757.1,1292.5 752.1,1287.5 752.1,1264.1"/><text x="773.5" y="1273.4">TARS</text><text x="773.5" y="1285.6">dimer</text></g>
<g class="n" id="c18-ppi"><ellipse cx="674" cy="1322" rx="28" ry="18"/><text x="674" y="1325.7">PPi</text></g>
<g class="n" id="c18-amp"><ellipse cx="767" cy="1324.8" rx="18" ry="13.5"/><text x="767" y="1328.5">AMP</text></g>
<g class="n" id="c18-p"><ellipse cx="723.7" cy="1347" rx="26.6" ry="19.3"/><text x="723.7" y="1337.5">Thr-</text><text x="723.7" y="1351">tRNA</text><text x="723.7" y="1363">(Thr)</text></g>
<!-- C19 Trp -->
<g class="n" id="c19-s"><ellipse cx="891.7" cy="1218.6" rx="38.4" ry="11.3"/><text x="891.7" y="1222.3">L-Trp</text></g>
<g class="n" id="c19-atp"><ellipse cx="853.2" cy="1242.7" rx="17.3" ry="14"/><text x="853.2" y="1246.4">ATP</text></g>
<g class="n" id="c19-t"><ellipse cx="932.2" cy="1243.5" rx="29.2" ry="12"/><text x="932.2" y="1240.5">tRNA</text><text x="932.2" y="1253">(Trp)</text></g>
<g class="n" id="c19-e"><polygon points="920.2,1260 956,1260 961,1265 961,1291.1 956,1296.1 920.2,1296.1 915.2,1291.1 915.2,1265"/><text x="938.1" y="1275.6">WARS</text><text x="938.1" y="1287.8">dimer</text></g>
<g class="n" id="c19-ppi"><ellipse cx="843.1" cy="1324.8" rx="27.7" ry="18"/><text x="843.1" y="1328.5">PPi</text></g>
<g class="n" id="c19-amp"><ellipse cx="924.9" cy="1324" rx="18" ry="14.3"/><text x="924.9" y="1327.7">AMP</text></g>
<g class="n" id="c19-p"><ellipse cx="889.3" cy="1357.1" rx="29.2" ry="13.5"/><text x="889.3" y="1354.5">Trp-tRNA</text><text x="889.3" y="1366.9">(Trp)</text></g>
<!-- C20 Tyr -->
<g class="n" id="c20-s"><ellipse cx="1071" cy="1213" rx="31" ry="11"/><text x="1071" y="1216.7">L-Tyr</text></g>
<g class="n" id="c20-atp"><ellipse cx="1033" cy="1240" rx="17" ry="13"/><text x="1033" y="1243.7">ATP</text></g>
<g class="n" id="c20-t"><ellipse cx="1117" cy="1236" rx="30" ry="12"/><text x="1117" y="1239.7">tRNA(Tyr)</text></g>
<g class="n" id="c20-e"><polygon points="1107,1259 1138,1259 1143,1264 1143,1284 1138,1289 1107,1289 1102,1284 1102,1264"/><text x="1122.5" y="1271.6">YARS</text><text x="1122.5" y="1283.8">dimer</text></g>
<g class="n" id="c20-ppi"><ellipse cx="1022" cy="1315" rx="29" ry="18.5"/><text x="1022" y="1318.7">PPi</text></g>
<g class="n" id="c20-amp"><ellipse cx="1117" cy="1313" rx="18.5" ry="14"/><text x="1117" y="1316.7">AMP</text></g>
<g class="n" id="c20-p"><ellipse cx="1074" cy="1342" rx="32" ry="14"/><text x="1074" y="1339.4">Tyr-tRNA</text><text x="1074" y="1351.8">(Tyr)</text></g>
<!-- C21 Val -->
<g class="n" id="c21-s"><ellipse cx="1253" cy="1211" rx="31" ry="11"/><text x="1253" y="1214.7">L-Val</text></g>
<g class="n" id="c21-atp"><ellipse cx="1214" cy="1236" rx="17" ry="13"/><text x="1214" y="1239.7">ATP</text></g>
<g class="n" id="c21-t"><ellipse cx="1299" cy="1234" rx="32" ry="12"/><text x="1299" y="1237.7">tRNA(Val)</text></g>
<g class="n" id="c21-e"><rect x="1296" y="1268" width="41" height="17" rx="4"/><text x="1316.5" y="1280.2">VARS</text></g>
<g class="n" id="c21-ppi"><ellipse cx="1205" cy="1316" rx="29" ry="18.5"/><text x="1205" y="1319.7">PPi</text></g>
<g class="n" id="c21-amp"><ellipse cx="1294" cy="1312" rx="18.5" ry="14"/><text x="1294" y="1315.7">AMP</text></g>
<g class="n" id="c21-p"><ellipse cx="1256" cy="1342" rx="32" ry="14"/><text x="1256" y="1339.4">Val-tRNA</text><text x="1256" y="1351.8">(Val)</text></g>
</g>
<g id="connectors">
<g id="r-m1"><path d="M185,177.5 V211.5 M156.5,186 L185,192 L212.5,187.5 M185,222.5 V241 M197.6,217 H219"/><path class="o" d="M185,241 L162,245.5"/><path class="o" d="M185,241 L209.5,244.5"/><path class="o" d="M185,241 L185,264.5"/><rect x="179.5" y="211.5" width="11" height="11"/><circle cx="194.3" cy="217" r="3.3"/></g>
<g id="r-m2"><path d="M361.5,176 V219.3 M337.8,190.6 L361.5,199.6 L371.8,197.2 M361.5,230.3 V250 M374.1,224.8 H398"/><path class="o" d="M361.5,250 L344.5,257.5"/><path class="o" d="M361.5,250 L379.5,259"/><path class="o" d="M361.5,250 L362,283"/><rect x="356" y="219.3" width="11" height="11"/><circle cx="370.8" cy="224.8" r="3.3"/></g>
<g id="r-m3"><path d="M534,181 V214.5 M515,196 L534,198 L557,193 M534,225.5 V245 M546.6,220 H569"/><path class="o" d="M534,245 L513,253"/><path class="o" d="M534,245 L565,254"/><path class="o" d="M534,245 L534,271"/><rect x="528.5" y="214.5" width="11" height="11"/><circle cx="543.3" cy="220" r="3.3"/></g>
<g id="r-m4"><path d="M712,177 V213.2 M690,187 L712,191.2 L728.1,189.5 M712,224.2 V238.5 M724.6,218.7 H740.6"/><path class="o" d="M712,238.5 L693,248.4"/><path class="o" d="M712,238.5 L733.7,253.5"/><path class="o" d="M712,238.5 L713,278.5"/><rect x="706.5" y="213.2" width="11" height="11"/><circle cx="721.3" cy="218.7" r="3.3"/></g>
<g id="r-m5"><path d="M879,183 V216.5 M859,201 L879,204 L902,196 M879,227.5 V248 M891.6,222 H907"/><path class="o" d="M879,248 L859,254"/><path class="o" d="M879,248 L907,258"/><path class="o" d="M879,248 L879,281"/><rect x="873.5" y="216.5" width="11" height="11"/><circle cx="888.3" cy="222" r="3.3"/></g>
<g id="r-m6"><path d="M1048,185 V223.5 M1034,204 L1048,208 L1060,201 M1048,234.5 V254 M1060.6,229 H1075"/><path class="o" d="M1048,254 L1027,263"/><path class="o" d="M1048,254 L1075,266"/><path class="o" d="M1048,254 L1049,287"/><rect x="1042.5" y="223.5" width="11" height="11"/><circle cx="1057.3" cy="229" r="3.3"/></g>
<g id="r-m7"><path d="M1209,191 V225.5 M1189,206 L1209,213 L1226,205 M1209,236.5 V256 M1221.6,231 H1238"/><path class="o" d="M1209,256 L1190,261"/><path class="o" d="M1209,256 L1228,263"/><path class="o" d="M1209,256 L1209,290"/><rect x="1203.5" y="225.5" width="11" height="11"/><circle cx="1218.3" cy="231" r="3.3"/></g>
<g id="r-m8"><path d="M264,365 V408.5 M248,379 L264,388 L279,379 M264,419.5 V440 M276.6,414 H290"/><path class="o" d="M264,440 L241,450"/><path class="o" d="M264,440 L281,449"/><path class="o" d="M264,440 L264,471"/><rect x="258.5" y="408.5" width="11" height="11"/><circle cx="273.3" cy="414" r="3.3"/></g>
<g id="r-m9"><path d="M457,369 V407.5 M440,384 L457,392 L465,384 M457,418.5 V440 M469.6,413 H484"/><path class="o" d="M457,440 L412,455"/><path class="o" d="M457,440 L476,452"/><path class="o" d="M457,440 L457,474"/><rect x="451.5" y="407.5" width="11" height="11"/><circle cx="466.3" cy="413" r="3.3"/></g>
<g id="r-m10"><path d="M625,371 V414.5 M606,388 L625,396 L640,390 M625,425.5 V444 M637.6,420 H649"/><path class="o" d="M625,444 L604,456"/><path class="o" d="M625,444 L653,456"/><path class="o" d="M625,444 L625,474"/><rect x="619.5" y="414.5" width="11" height="11"/><circle cx="634.3" cy="420" r="3.3"/></g>
<g id="r-m11"><path d="M789,378 V418.5 M767,388 L789,402 L812,389 M789,429.5 V450 M801.6,424 H819"/><path class="o" d="M789,450 L768,461"/><path class="o" d="M789,450 L810,460"/><path class="o" d="M789,450 L789,482"/><rect x="783.5" y="418.5" width="11" height="11"/><circle cx="798.3" cy="424" r="3.3"/></g>
<g id="r-m12"><path d="M957,380 V416.5 M939,393 L957,401 L977,390 M957,427.5 V450 M969.6,422 H985"/><path class="o" d="M957,450 L936,460"/><path class="o" d="M957,450 L978,461"/><path class="o" d="M957,450 L957,487"/><rect x="951.5" y="416.5" width="11" height="11"/><circle cx="966.3" cy="422" r="3.3"/></g>
<g id="r-m13"><path d="M1123,383 V423.5 M1101,397 L1123,410 L1140,399 M1123,434.5 V456 M1135.6,429 H1155"/><path class="o" d="M1123,456 L1106,466"/><path class="o" d="M1123,456 L1142,466"/><path class="o" d="M1123,456 L1123,495"/><rect x="1117.5" y="423.5" width="11" height="11"/><circle cx="1132.3" cy="429" r="3.3"/></g>
<g id="r-m14"><path d="M1415,468 V526.5 M1438.2,486.8 L1415,492.3 M1415,537.5 V552.5 M1427.6,532 H1444.6"/><path class="g" d="M1386.5,532 L1409.5,532"/><path class="o" d="M1415,563 L1415,585.6"/><rect x="1409.5" y="526.5" width="11" height="11"/><circle cx="1424.3" cy="532" r="3.3"/><rect x="1410" y="552.5" width="10" height="10.5"/><text transform="rotate(90 1415 557.7)" x="1415" y="560.5">2</text></g>
<g id="r-m15"><path d="M177,575 V621.5 M158,597 L177,608 L190,603 M177,632.5 V650 M189.6,627 H205"/><path class="o" d="M177,650 L160,660"/><path class="o" d="M177,650 L199,660"/><path class="o" d="M177,650 L177,690"/><rect x="171.5" y="621.5" width="11" height="11"/><circle cx="186.3" cy="627" r="3.3"/></g>
<g id="r-m16"><path d="M341,575 V613.5 M323,596 L341,600 L358,590 M341,624.5 V645 M353.6,619 H369"/><path class="o" d="M341,645 L324,657"/><path class="o" d="M341,645 L362,657"/><path class="o" d="M341,645 L342,691"/><rect x="335.5" y="613.5" width="11" height="11"/><circle cx="350.3" cy="619" r="3.3"/></g>
<g id="r-m17"><path d="M509,573 V609.5 M493,586 L509,593 L531,580 M509,620.5 V640 M521.6,615 H540"/><path class="o" d="M509,640 L487,652"/><path class="o" d="M509,640 L529,655"/><path class="o" d="M509,640 L510,693"/><rect x="503.5" y="609.5" width="11" height="11"/><circle cx="518.3" cy="615" r="3.3"/></g>
<g id="r-m18"><path d="M689,574 V613.5 M664,588 L689,598 L707,589 M689,624.5 V645 M701.6,619 H716"/><path class="o" d="M689,645 L666,655"/><path class="o" d="M689,645 L705,657"/><path class="o" d="M689,645 L689,690"/><rect x="683.5" y="613.5" width="11" height="11"/><circle cx="698.3" cy="619" r="3.3"/></g>
<g id="r-m19"><path d="M867,575 V617.5 M839,586 L867,602 L886,588 M867,628.5 V652 M879.6,623 H899"/><path class="o" d="M867,652 L843,661"/><path class="o" d="M867,652 L893,661"/><path class="o" d="M867,652 L868,687"/><rect x="861.5" y="617.5" width="11" height="11"/><circle cx="876.3" cy="623" r="3.3"/></g>
<g id="r-m20"><path d="M1048,574 V627.5 M1028,589 L1048,607 L1059,593 M1048,638.5 V656 M1060.6,633 H1074"/><path class="o" d="M1048,656 L1030,663"/><path class="o" d="M1048,656 L1069,664"/><path class="o" d="M1048,656 L1050,687"/><rect x="1042.5" y="627.5" width="11" height="11"/><circle cx="1057.3" cy="633" r="3.3"/></g>
<g id="r-m21"><path d="M1209,576 V628.5 M1185,594 L1209,603 L1226,588 M1209,639.5 V660 M1221.6,634 H1235"/><path class="o" d="M1209,660 L1190,666"/><path class="o" d="M1209,660 L1232,666"/><path class="o" d="M1209,660 L1210,688"/><rect x="1203.5" y="628.5" width="11" height="11"/><circle cx="1218.3" cy="634" r="3.3"/></g>
<g id="r-c1"><path d="M131,834 V867.5 M114,844 L131,852 L150,844 M131,878.5 V897 M143.6,873 H162"/><path class="o" d="M131,897 L112,901"/><path class="o" d="M131,897 L153,903"/><path class="o" d="M131,897 L132,921"/><rect x="125.5" y="867.5" width="11" height="11"/><circle cx="140.3" cy="873" r="3.3"/></g>
<g id="r-c2"><path d="M289.6,834.5 V870.2 M269.5,842.4 L289.6,847.5 L315.5,841.5 M289.6,881.2 V898.1 M302.2,875.7 H314.6"/><path class="o" d="M289.6,898.1 L273.4,901.7"/><path class="o" d="M289.6,898.1 L336.6,927.3"/><path class="o" d="M289.6,898.1 L287.5,919.8"/><rect x="284.1" y="870.2" width="11" height="11"/><circle cx="298.9" cy="875.7" r="3.3"/></g>
<g id="r-c3"><path d="M490,834 V873.5 M465,845 L490,853 L508,844 M490,884.5 V902 M502.6,879 H521"/><path class="o" d="M490,902 L470,907"/><path class="o" d="M490,902 L511,906"/><path class="o" d="M490,902 L490,929"/><rect x="484.5" y="873.5" width="11" height="11"/><circle cx="499.3" cy="879" r="3.3"/></g>
<g id="r-c4"><path d="M647.6,831 V873.6 M630.2,846.6 L647.6,854.5 L694.9,832.5 M647.6,884.6 V901.7 M660.2,879.1 H667.8"/><path class="o" d="M647.6,901.7 L632.5,906.2"/><path class="o" d="M647.6,901.7 L678.3,927.3"/><path class="o" d="M647.6,901.7 L647.6,927.3"/><rect x="642.1" y="873.6" width="11" height="11"/><circle cx="656.9" cy="879.1" r="3.3"/></g>
<g id="r-c5"><path d="M866,833 V868.8 M841.2,843.9 L866,847.5 L884.9,843.9 M866,879.8 V897.2 M878.6,874.3 H899"/><path class="o" d="M866,897.2 L836.7,906.2"/><path class="o" d="M866,897.2 L892.4,906.2"/><path class="o" d="M866,897.2 L866.8,918.3"/><rect x="860.5" y="868.8" width="11" height="11"/><circle cx="875.3" cy="874.3" r="3.3"/></g>
<g id="r-c6"><path d="M1033.3,834 V889.2 M1015.2,855.1 L1033.3,863.2 L1052,856 M1033.3,900.2 V912.3 M1045.9,894.7 H1058"/><path class="o" d="M1033.3,912.3 L1017.3,913.8"/><path class="o" d="M1033.3,912.3 L1073,940.3"/><path class="o" d="M1033.3,912.3 L1033.3,934.8"/><rect x="1027.8" y="889.2" width="11" height="11"/><circle cx="1042.6" cy="894.7" r="3.3"/></g>
<g id="r-c7"><path d="M1241,842 V892.5 M1222,861 L1241,868 L1263,859 M1241,903.5 V915 M1253.6,898 H1270"/><path class="o" d="M1241,915 L1222,923"/><path class="o" d="M1241,915 L1286,943"/><path class="o" d="M1241,915 L1241,943"/><rect x="1235.5" y="892.5" width="11" height="11"/><circle cx="1250.3" cy="898" r="3.3"/></g>
<g id="r-c8"><path d="M198.4,1013 V1056.2 M181.8,1031.2 L198.4,1035.7 L215.9,1033.6 M198.4,1067.2 V1086.3 M211,1061.7 H233.9"/><path class="o" d="M198.4,1086.3 L184.3,1094.4"/><path class="o" d="M198.4,1086.3 L227,1101"/><path class="o" d="M198.4,1086.3 L199,1119.1"/><rect x="192.9" y="1056.2" width="11" height="11"/><circle cx="207.7" cy="1061.7" r="3.3"/></g>
<g id="r-c9"><path d="M372,1014 V1058.5 M355,1033 L372,1040 L385,1028 M372,1069.5 V1090 M384.6,1064 H405"/><path class="o" d="M372,1090 L352,1103"/><path class="o" d="M372,1090 L393,1104"/><path class="o" d="M372,1090 L373,1132"/><rect x="366.5" y="1058.5" width="11" height="11"/><circle cx="381.3" cy="1064" r="3.3"/></g>
<g id="r-c10"><path d="M539,1015 V1064.5 M521,1035 L539,1042 L557,1031 M539,1075.5 V1092 M551.6,1070 H562"/><path class="o" d="M539,1092 L514,1110"/><path class="o" d="M539,1092 L575,1133"/><path class="o" d="M539,1092 L539,1134"/><rect x="533.5" y="1064.5" width="11" height="11"/><circle cx="548.3" cy="1070" r="3.3"/></g>
<g id="r-c11"><path d="M741,1013 V1072.5 M722,1032 L741,1045 L754,1033 M741,1083.5 V1102 M753.6,1078 H768"/><path class="o" d="M741,1102 L713,1114"/><path class="o" d="M741,1102 L784,1132"/><path class="o" d="M741,1102 L741,1133"/><rect x="735.5" y="1072.5" width="11" height="11"/><circle cx="750.3" cy="1078" r="3.3"/></g>
<g id="r-c12"><path d="M941,1014 V1058.5 M928,1030 L941,1035 L961,1028 M941,1069.5 V1088 M953.6,1064 H970"/><path class="o" d="M941,1088 L917,1104"/><path class="o" d="M941,1088 L984,1126"/><path class="o" d="M941,1088 L942,1128"/><rect x="935.5" y="1058.5" width="11" height="11"/><circle cx="950.3" cy="1064" r="3.3"/></g>
<g id="r-c13"><path d="M1162,1015 V1064.5 M1142,1029 L1162,1038 L1184,1026 M1162,1075.5 V1092 M1174.6,1070 H1192"/><path class="o" d="M1162,1092 L1138,1103"/><path class="o" d="M1162,1092 L1201,1120"/><path class="o" d="M1162,1092 L1162,1129"/><rect x="1156.5" y="1064.5" width="11" height="11"/><circle cx="1171.3" cy="1070" r="3.3"/></g>
<g id="r-c14"><path d="M1442,1091.4 V1149.7 M1462.6,1117 L1442,1128.4 M1442,1160.7 V1175.7 M1454.6,1155.2 H1474.7"/><path class="g" d="M1415.6,1155.2 L1436.5,1155.2"/><path class="o" d="M1442,1186.2 L1442,1207.4"/><rect x="1436.5" y="1149.7" width="11" height="11"/><circle cx="1451.3" cy="1155.2" r="3.3"/><rect x="1437" y="1175.7" width="10" height="10.5"/><text transform="rotate(90 1442 1180.9)" x="1442" y="1183.7">2</text></g>
<g id="r-c15"><path d="M141.5,1226 V1272.8 M105.4,1243.5 L141.5,1249.5 L165,1244 M141.5,1283.8 V1306.7 M132.2,1278.3 H144.5"/><path class="o" d="M141.5,1306.7 L123.5,1315.8"/><path class="o" d="M141.5,1306.7 L164.1,1318.7"/><path class="o" d="M141.5,1306.7 L141.5,1345.8"/><rect x="136" y="1272.8" width="11" height="11"/><circle cx="128.9" cy="1278.3" r="3.3"/></g>
<g id="r-c16"><path d="M320,1227 V1278.5 M305,1243 L320,1250 L345,1238 M320,1289.5 V1306 M332.6,1284 H351"/><path class="o" d="M320,1306 L298,1308"/><path class="o" d="M320,1306 L372,1329"/><path class="o" d="M320,1306 L320,1335"/><rect x="314.5" y="1278.5" width="11" height="11"/><circle cx="329.3" cy="1284" r="3.3"/></g>
<g id="r-c17"><path d="M539,1230 V1270.5 M511,1239 L539,1250 L566,1241 M539,1281.5 V1300 M551.6,1276 H571"/><path class="o" d="M539,1300 L516,1310"/><path class="o" d="M539,1300 L565,1313"/><path class="o" d="M539,1300 L540,1337"/><rect x="533.5" y="1270.5" width="11" height="11"/><circle cx="548.3" cy="1276" r="3.3"/></g>
<g id="r-c18"><path d="M722.6,1229 V1267.9 M697,1242 L722.6,1248 L743,1244 M722.6,1278.9 V1295.2 M735.2,1273.4 H752.1"/><path class="o" d="M722.6,1295.2 L707.5,1303.6"/><path class="o" d="M722.6,1295.2 L746.7,1312.7"/><path class="o" d="M722.6,1295.2 L722,1326.3"/><rect x="717.1" y="1267.9" width="11" height="11"/><circle cx="731.9" cy="1273.4" r="3.3"/></g>
<g id="r-c19"><path d="M891.2,1232 V1267.9 M874.6,1244 L891.2,1248 L900.8,1245.8 M891.2,1278.9 V1297.6 M903.8,1273.4 H915.2"/><path class="o" d="M891.2,1297.6 L874.6,1308.1"/><path class="o" d="M891.2,1297.6 L906.8,1306.7"/><path class="o" d="M891.2,1297.6 L889.7,1336.8"/><rect x="885.7" y="1267.9" width="11" height="11"/><circle cx="900.5" cy="1273.4" r="3.3"/></g>
<g id="r-c20"><path d="M1072,1227 V1271.5 M1052,1243 L1072,1250 L1086,1239 M1072,1282.5 V1300 M1084.6,1277 H1102"/><path class="o" d="M1072,1300 L1048,1306"/><path class="o" d="M1072,1300 L1098,1305"/><path class="o" d="M1072,1300 L1073,1325"/><rect x="1066.5" y="1271.5" width="11" height="11"/><circle cx="1081.3" cy="1277" r="3.3"/></g>
<g id="r-c21"><path d="M1252,1225 V1267.5 M1233,1239 L1252,1247 L1266,1237 M1252,1278.5 V1296 M1264.6,1273 H1296"/><path class="o" d="M1252,1296 L1229,1305"/><path class="o" d="M1252,1296 L1277,1303"/><path class="o" d="M1252,1296 L1253,1325"/><rect x="1246.5" y="1267.5" width="11" height="11"/><circle cx="1261.3" cy="1273" r="3.3"/></g>
</g>
</g>
</svg>
